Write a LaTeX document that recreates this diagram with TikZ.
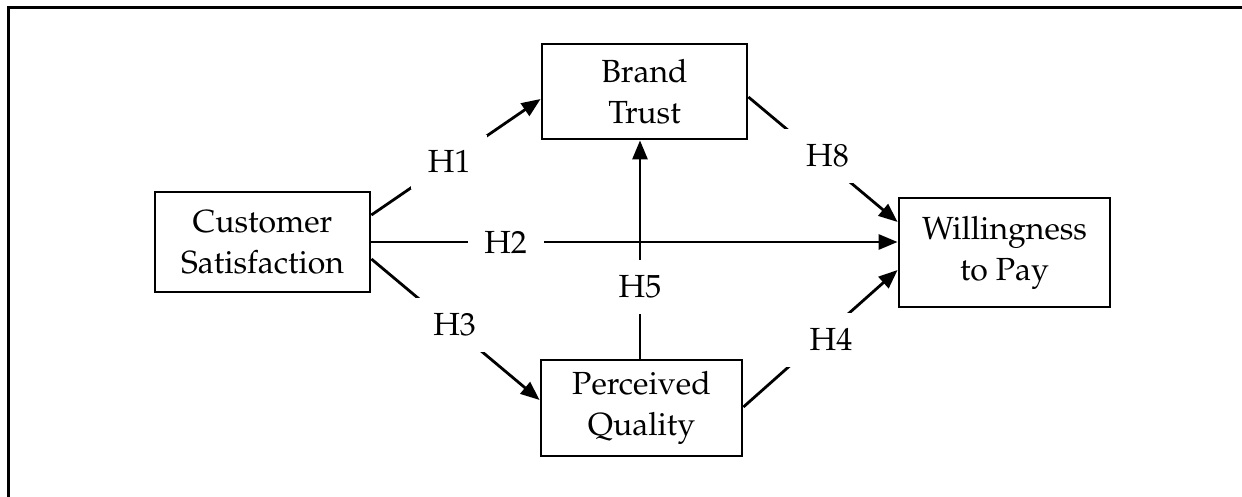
\documentclass[tikz,border=0pt]{standalone}
\usepackage[T1]{fontenc}
\usepackage{mathpazo}
\usetikzlibrary{arrows.meta,calc}
\begin{document}
\begin{tikzpicture}[x=1pt,y=-1pt,
  box/.style={draw,line width=2.8pt,align=center,inner sep=0pt,
    font=\fontsize{32}{41}\selectfont},
  conn/.style={line width=2.8pt},
  arr/.style={conn,-{Triangle[length=19pt,width=15pt]}},
  lab/.style={fill=white,inner sep=0pt,minimum width=76pt,minimum height=54pt,
    font=\fontsize{32}{41}\selectfont}]
\useasboundingbox (0,0) rectangle (1242,497);
\draw[line width=3pt] (1242,8) -- (8.5,8) -- (8.5,497);

\node[box,minimum width=215pt,minimum height=100pt] (CS) at (262.5,242) {Customer\\Satisfaction};
\node[box,minimum width=205pt,minimum height=95pt] (BT) at (644.5,91.5) {Brand\\Trust};
\node[box,minimum width=211pt,minimum height=109pt] (WP) at (1004.5,252.5) {Willingness\\to Pay};
\node[box,minimum width=201pt,minimum height=96pt] (PQ) at (641.5,408) {Perceived\\Quality};
\coordinate (vx) at (640,250);

\draw[arr] ($(CS.east)+(0,-27)$) -- node[lab,pos=0.46] {H1} ($(BT.west)+(0,7.5)$);
\draw[arr] (CS.east) -- node[lab,pos=0.255] {H2} (CS.east -| WP.west);
\draw[arr] ($(CS.east)+(0,17)$) -- node[lab,pos=0.465] {\hspace*{10pt}H3} ($(PQ.west)+(0,-8)$);
\draw[arr] ($(BT.east)+(0,5.5)$) -- node[lab,pos=0.47] {\hspace*{18pt}H8} ($(WP.west)+(0,-30.5)$);
\draw[arr] ($(PQ.east)+(0,-1)$) -- node[lab,pos=0.49] {\hspace*{24pt}H4} ($(WP.west)+(0,17.5)$);
\draw[arr] (PQ.north -| vx) -- node[lab,pos=0.33] {H5} (BT.south -| vx);
\end{tikzpicture}
\end{document}
